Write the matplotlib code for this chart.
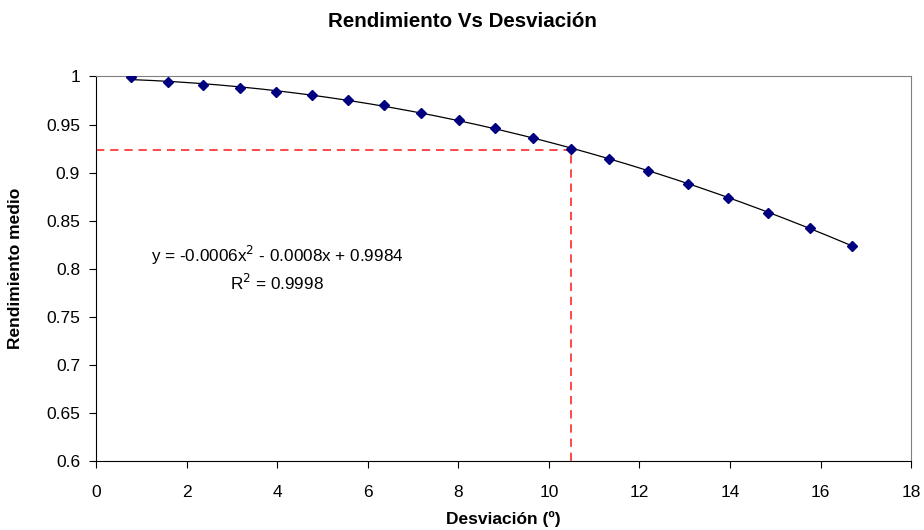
import matplotlib.pyplot as plt
import numpy as np

plt.rcParams["font.family"] = ["Liberation Sans", "DejaVu Sans"]

# Deviation (degrees) and mean efficiency
desviacion = [0.77, 1.58, 2.37, 3.17, 3.97, 4.77, 5.56, 6.36, 7.17, 8.01,
              8.81, 9.65, 10.50, 11.34, 12.20, 13.08, 13.96, 14.84, 15.77, 16.70]
rendimiento = [0.999, 0.994, 0.9915, 0.988, 0.984, 0.981, 0.9755, 0.970, 0.962, 0.955,
               0.946, 0.936, 0.925, 0.914, 0.902, 0.8885, 0.874, 0.858, 0.842, 0.824]

# Reference point marked with red dashed lines
x_ref = 10.5
y_ref = 0.9233

x_ticks = [0, 2, 4, 6, 8, 10, 12, 14, 16, 18]
y_ticks = [0.6, 0.65, 0.7, 0.75, 0.8, 0.85, 0.9, 0.95, 1]

fig = plt.figure(figsize=(9.24, 5.30), dpi=100)
ax = fig.add_axes([0.1039, 0.1302, 0.8821, 0.7255])

# polynomial trendline (order 2)
coef = np.polyfit(desviacion, rendimiento, 2)
xs = np.linspace(min(desviacion), max(desviacion), 200)
ax.plot(xs, np.polyval(coef, xs), color="black", linewidth=0.9, zorder=2)

ax.plot(desviacion, rendimiento, linestyle="none", marker="D", markersize=5,
        color="#000080", zorder=3)

dash = (0, (5, 3.5))
ax.plot([0, x_ref], [y_ref, y_ref], color="#ff2a2a", linestyle=dash, linewidth=1.2)
ax.plot([x_ref, x_ref], [0.6, y_ref], color="#ff2a2a", linestyle=dash, linewidth=1.2)

ax.text(4.0, 0.8135, r"y = -0.0006x$^2$ - 0.0008x + 0.9984", ha="center", va="center", fontsize=12.3)
ax.text(4.0, 0.785, r"R$^2$ = 0.9998", ha="center", va="center", fontsize=12.3)

ax.set_xlim(0, 18)
ax.set_ylim(0.6, 1)
ax.set_xticks(x_ticks)
ax.set_xticklabels([str(t) for t in x_ticks])
ax.set_yticks(y_ticks)
ax.set_yticklabels(["0.6", "0.65", "0.7", "0.75", "0.8", "0.85", "0.9", "0.95", "1"])
ax.tick_params(direction="out", length=5, width=0.8, labelsize=12.5)
ax.tick_params(axis="x", pad=12)
ax.tick_params(axis="y", pad=6.5)

ax.spines["top"].set_color("#808080")
ax.spines["right"].set_color("#808080")

ax.set_xlabel("Desviación (º)", fontsize=12.5, fontweight="bold")
ax.xaxis.set_label_coords(0.5, -0.13)
ax.set_ylabel("Rendimiento medio", fontsize=12.5, fontweight="bold")
ax.yaxis.set_label_coords(-0.09, 0.5)
fig.text(0.5, 0.9496, "Rendimiento Vs Desviación", ha="center", va="baseline",
         fontsize=14.8, fontweight="bold")

fig.savefig("out.png", dpi=100)
